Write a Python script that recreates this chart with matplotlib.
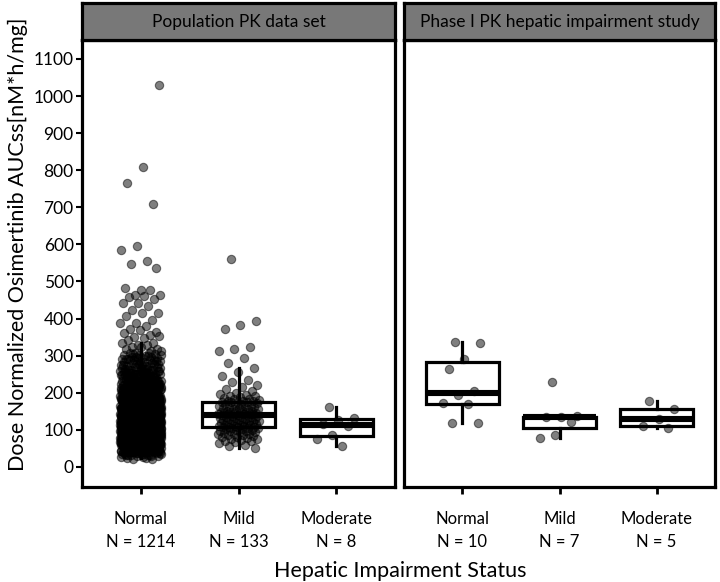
import matplotlib
matplotlib.use("Agg")
import matplotlib.pyplot as plt
import numpy as np

plt.rcParams['font.family'] = ['Lato', 'DejaVu Sans']

panels = ["Population PK data set", "Phase I PK hepatic impairment study"]
groups = ["Normal", "Mild", "Moderate"]
n_labels = [["N = 1214", "N = 133", "N = 8"], ["N = 10", "N = 7", "N = 5"]]

# population PK, normal: the dense cloud is read as a frequency table (bin value, count)
pop_normal_bins = [25, 35, 45, 55, 65, 75, 85, 95, 105, 115, 125, 135, 145, 155, 165,
                   175, 185, 195, 205, 215, 225, 235, 245, 255, 265, 275, 285, 295, 305]
pop_normal_counts = [8, 20, 35, 50, 60, 70, 75, 78, 78, 75, 72, 68, 62, 56, 50,
                     45, 40, 35, 30, 27, 24, 21, 18, 16, 14, 12, 10, 9, 8]
# the sparse points above the cloud
pop_normal_high = [1032, 814, 763, 709, 598, 590, 553, 547, 539, 480, 480, 477, 466, 466,
                   458, 458, 453, 445, 437, 431, 423, 418, 410, 404, 398, 391, 385, 377,
                   372, 368, 365, 360, 356, 352, 348, 345, 342, 338, 335, 332, 328, 325,
                   322, 320, 318, 315, 313, 311]

pop_mild = [560, 393, 383, 372, 323, 318, 313, 294, 280, 267, 256, 245, 234, 229, 222,
            215, 210, 205, 200, 198, 195, 192, 190, 188, 186, 184, 182, 180, 179, 178,
            177, 176, 176, 175, 174, 172, 171, 170, 168, 167, 165, 164, 162, 161, 160,
            158, 157, 156, 155, 154, 152, 151, 150, 149, 148, 147, 146, 145, 145, 144,
            144, 143, 143, 143, 142, 141, 140, 140, 138, 137, 136, 135, 134, 133, 132,
            130, 129, 128, 127, 126, 125, 124, 123, 122, 121, 120, 119, 118, 117, 116,
            115, 114, 113, 112, 111, 110, 110, 109, 108, 108, 107, 106, 105, 104, 103,
            102, 100, 99, 98, 97, 96, 95, 93, 92, 90, 89, 88, 86, 85, 83, 82, 80, 78,
            76, 75, 73, 71, 69, 67, 64, 60, 56, 51]
pop_moderate = [162, 132, 127, 116, 110, 86, 75, 57]

p1_normal = [337, 334, 291, 264, 205, 194, 172, 170, 119, 118]
p1_mild = [229, 137, 135, 134, 122, 86, 78]
p1_moderate = [178, 156, 129, 111, 105]

pop_normal = list(np.repeat(pop_normal_bins, pop_normal_counts)) + pop_normal_high
data = [[pop_normal, pop_mild, pop_moderate], [p1_normal, p1_mild, p1_moderate]]
# vertical spread used only when drawing the binned cloud (half a bin)
bin_half = [[5, 0, 0], [0, 0, 0]]
# the normal box sits hidden inside the point cloud
box_widths = [[0.4, 0.75, 0.75], [0.75, 0.75, 0.75]]

W, H = 720, 582
fig = plt.figure(figsize=(7.2, 5.82), dpi=100)

# pixel boxes of the two panels (left, right)
panel_px = [(82, 395), (404, 715)]
top_px, bot_px, strip_top = 40, 487, 3


def spread(n, step, phase):
    # low discrepancy sequence in [-1, 1), keeps the jitter deterministic
    k = np.arange(n)
    return ((k * step + phase) % 1.0 - 0.5) * 2


for p, (x0, x1) in enumerate(panel_px):
    ax = fig.add_axes([x0 / W, 1 - bot_px / H, (x1 - x0) / W, (bot_px - top_px) / H])
    for i, vals in enumerate(data[p]):
        vals = np.asarray(vals, dtype=float)
        pos = i + 1
        ax.boxplot(vals, positions=[pos], widths=box_widths[p][i], whis=1.5,
                   showfliers=False, patch_artist=True, manage_ticks=False,
                   boxprops=dict(facecolor="white", edgecolor="black", linewidth=2.3),
                   whiskerprops=dict(color="black", linewidth=2.3),
                   capprops=dict(linewidth=0),
                   medianprops=dict(color="black", linewidth=4.4),
                   zorder=1)
        xs = pos + 0.21 * spread(len(vals), 0.6180339887, 0.31)
        ys = vals + bin_half[p][i] * spread(len(vals), 0.7548776662, 0.13)
        # black at half opacity: grey alone, black where points pile up
        ax.scatter(xs, ys, s=36, facecolor="black", edgecolor="black",
                   linewidth=0.8, alpha=0.5, zorder=2)
    ax.set_xlim(0.4, 3.6)
    ax.set_ylim(-54, 1151)
    ax.set_xticks([1, 2, 3])
    ax.set_xticklabels([g + "\n" + n for g, n in zip(groups, n_labels[p])],
                       fontsize=12, linespacing=1.6)
    ax.tick_params(axis="x", length=5, width=2, pad=12)
    if p == 0:
        ax.set_yticks(np.arange(0, 1101, 100))
        ax.tick_params(axis="y", length=4, width=1.5, labelsize=12.5, pad=2)
    else:
        ax.set_yticks([])
    for s in ax.spines.values():
        s.set_linewidth(2.3)

    # strip header
    sx = fig.add_axes([x0 / W, 1 - top_px / H, (x1 - x0) / W, (top_px - strip_top) / H])
    sx.set_facecolor("#787878")
    sx.set_xticks([])
    sx.set_yticks([])
    for s in sx.spines.values():
        s.set_linewidth(2.3)
    sx.text(0.5, 0.5, panels[p], ha="center", va="center", fontsize=12.5,
            transform=sx.transAxes)

fig.text(0.025, 1 - 244 / H, "Dose Normalized Osimertinib AUCss[nM*h/mg]",
         rotation=90, ha="center", va="center", fontsize=15.5)
fig.text(400 / W, 1 - 571 / H, "Hepatic Impairment Status", ha="center", va="center",
         fontsize=15.5)

fig.savefig("out.png", dpi=100)
